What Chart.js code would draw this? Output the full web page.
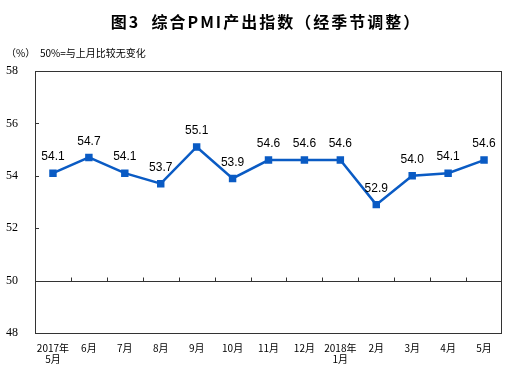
<!DOCTYPE html>
<html>
<head>
<meta charset="utf-8">
<script src="https://cdn.jsdelivr.net/npm/chart.js@4/dist/chart.umd.min.js"></script>
<style>
  html, body { margin: 0; padding: 0; background: #fff; }
  #wrap { width: 508px; height: 368px; position: relative; }
</style>
</head>
<body>
<div id="wrap"><canvas id="myChart" width="508" height="368"></canvas></div>
<script>
const titulo = '图3  综合PMI产出指数（经季节调整）';
const unidad = '（%）';
const nota = '50%=与上月比较无变化';
const meses = [['2017年', '5月'], '6月', '7月', '8月', '9月', '10月', '11月', '12月', ['2018年', '1月'], '2月', '3月', '4月', '5月'];
const valores = [54.1, 54.7, 54.1, 53.7, 55.1, 53.9, 54.6, 54.6, 54.6, 52.9, 54.0, 54.1, 54.6];
const ticksY = [48, 50, 52, 54, 56, 58];
const lineaBase = 50;
const azul = '#0a5bc4';

// dibuja titulo, linea del 50, marco y etiquetas
const extras = {
    id: 'extras',
    afterDatasetsDraw(chart) {
        const ctx = chart.ctx;
        const area = chart.chartArea;
        const x = chart.scales.x;
        const y = chart.scales.y;
        ctx.save();

        // marco
        ctx.strokeStyle = '#333';
        ctx.lineWidth = 1;
        ctx.strokeRect(area.left + 0.5, area.top + 0.5, area.right - area.left - 1, area.bottom - area.top);

        // linea 50
        const y50 = Math.round(y.getPixelForValue(lineaBase)) + 0.5;
        ctx.beginPath();
        ctx.moveTo(area.left, y50);
        ctx.lineTo(area.right, y50);
        ctx.stroke();

        // marcas en la linea 50 entre categorias
        const paso = x.getPixelForValue(1) - x.getPixelForValue(0);
        ctx.beginPath();
        for (let i = 1; i < meses.length; i++) {
            const px = Math.round(x.getPixelForValue(i) - paso / 2) + 0.5;
            ctx.moveTo(px, y50);
            ctx.lineTo(px, y50 - 4);
        }
        // marcas del eje y hacia dentro
        ticksY.forEach(v => {
            const py = Math.round(y.getPixelForValue(v)) + 0.5;
            ctx.moveTo(area.left, py);
            ctx.lineTo(area.left + 4, py);
        });
        ctx.stroke();

        // etiquetas de datos
        const meta = chart.getDatasetMeta(0);
        ctx.fillStyle = '#000';
        ctx.font = '12px "Liberation Sans", Arial, sans-serif';
        ctx.textAlign = 'center';
        ctx.textBaseline = 'middle';
        meta.data.forEach((pt, i) => {
            ctx.fillText(valores[i].toFixed(1), pt.x, pt.y - 16);
        });

        // titulo
        ctx.font = 'bold 16px "Noto Sans CJK SC", sans-serif';
        ctx.letterSpacing = '2px';
        ctx.fillText(titulo, 266, 22);
        ctx.letterSpacing = '0px';

        ctx.font = '10px "Noto Sans CJK SC", sans-serif';
        ctx.textAlign = 'left';
        ctx.fillText(unidad, 6, 53);
        ctx.fillText(nota, 40, 53);
        ctx.restore();
    }
};

const ctx = document.getElementById('myChart').getContext('2d');
new Chart(ctx, {
    type: 'line',
    data: {
        labels: meses,
        datasets: [{
            data: valores,
            borderColor: azul,
            backgroundColor: azul,
            borderWidth: 2.5,
            pointStyle: 'rect',
            pointRadius: 3.5,
            pointHoverRadius: 3.5,
            tension: 0,
            clip: false
        }]
    },
    options: {
        responsive: false,
        animation: false,
        layout: { padding: { top: 71, right: 3, left: 0, bottom: 0 } },
        plugins: { legend: { display: false }, tooltip: { enabled: false }, title: { display: false } },
        scales: {
            x: {
                type: 'category',
                offset: true,
                grid: { display: false },
                border: { display: false },
                ticks: {
                    color: '#000',
                    font: { family: '"Noto Sans CJK SC", sans-serif', size: 10, lineHeight: 1.15 },
                    padding: 1,
                    maxRotation: 0,
                    autoSkip: false
                },
                afterFit(scale) { scale.height = 35; }
            },
            y: {
                min: 48,
                max: 58,
                afterBuildTicks(scale) { scale.ticks = ticksY.map(v => ({ value: v })); },
                grid: { display: false },
                border: { display: false },
                ticks: {
                    color: '#000',
                    font: { family: '"Liberation Serif", serif', size: 12 },
                    padding: 9
                },
                afterFit(scale) { scale.width = 35; }
            }
        }
    },
    plugins: [extras]
});
</script>
</body>
</html>
